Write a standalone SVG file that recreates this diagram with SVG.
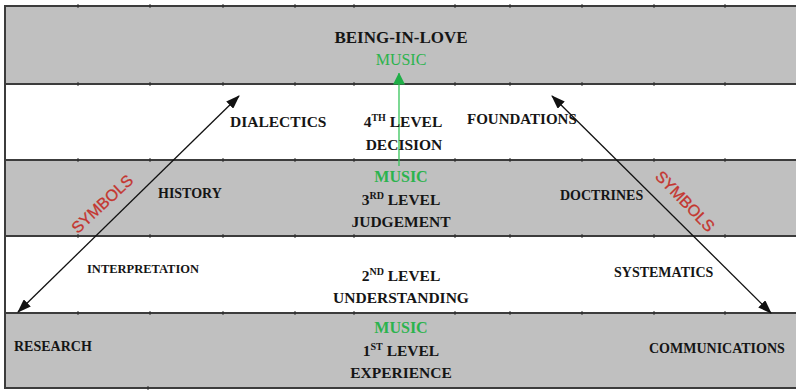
<svg xmlns="http://www.w3.org/2000/svg" width="796" height="390" viewBox="0 0 796 390">
  <style>
    .band-grey { fill: #c0c0c0; }
    .band-white { fill: #ffffff; }
    .rule { stroke: #3c3c3c; stroke-width: 2; fill: none; }
    .tick { fill: #333333; }
    .lbl { font-family: "Liberation Serif", "Times New Roman", serif; font-weight: bold; fill: #151515; }
    .c { text-anchor: middle; font-size: 15.5px; }
    .side { font-size: 14px; }
    .music { font-family: "Liberation Serif", "Times New Roman", serif; fill: #2cb34d; text-anchor: middle; }
    .sup { font-size: 10px; }
    .sym { font-family: "Liberation Sans", Arial, sans-serif; font-size: 16px; fill: #c4352f; text-anchor: middle; stroke: #c4352f; stroke-width: 0.3; }
    .arrow { stroke: #111111; stroke-width: 1.3; fill: none; }
    .rise { stroke: #36c45a; stroke-width: 1.3; fill: none; }
  </style>
  <defs>
    <marker id="head" viewBox="0 0 14 10" refX="13" refY="5" markerWidth="14" markerHeight="10" markerUnits="userSpaceOnUse" orient="auto-start-reverse">
      <path d="M0,0 L14,5 L0,10 Z" fill="#111111"/>
    </marker>
    <marker id="head-green" viewBox="0 0 12 12" refX="11.5" refY="6" markerWidth="12" markerHeight="12" markerUnits="userSpaceOnUse" orient="auto">
      <path d="M0,0 L12,6 L0,12 Z" fill="#1fae47"/>
    </marker>
  </defs>

  <!-- level bands -->
  <g id="bands">
    <rect class="band-grey" x="5" y="6" width="791" height="78"/>
    <rect class="band-white" x="5" y="84" width="791" height="76"/>
    <rect class="band-grey" x="5" y="160" width="791" height="76"/>
    <rect class="band-white" x="5" y="236" width="791" height="77"/>
    <rect class="band-grey" x="5" y="313" width="791" height="75"/>
    <path class="rule" d="M5,6 H796 M5,84 H796 M5,160 H796 M5,236 H796 M5,313 H796 M5,388 H796 M5,5 V389"/>
    <g class="tick">
      <rect x="77" y="4.5" width="2" height="3"/><rect x="149" y="4.5" width="2" height="3"/><rect x="222" y="4.5" width="2" height="3"/><rect x="294" y="4.5" width="2" height="3"/><rect x="353" y="4.5" width="2" height="3"/><rect x="454" y="4.5" width="2" height="3"/><rect x="509" y="4.5" width="2" height="3"/><rect x="581" y="4.5" width="2" height="3"/><rect x="653" y="4.5" width="2" height="3"/><rect x="724" y="4.5" width="2" height="3"/>
      <rect x="77" y="82.5" width="2" height="3"/><rect x="149" y="82.5" width="2" height="3"/><rect x="222" y="82.5" width="2" height="3"/><rect x="294" y="82.5" width="2" height="3"/><rect x="353" y="82.5" width="2" height="3"/><rect x="454" y="82.5" width="2" height="3"/><rect x="509" y="82.5" width="2" height="3"/><rect x="581" y="82.5" width="2" height="3"/><rect x="653" y="82.5" width="2" height="3"/><rect x="724" y="82.5" width="2" height="3"/>
      <rect x="77" y="158.5" width="2" height="3"/><rect x="149" y="158.5" width="2" height="3"/><rect x="222" y="158.5" width="2" height="3"/><rect x="294" y="158.5" width="2" height="3"/><rect x="353" y="158.5" width="2" height="3"/><rect x="454" y="158.5" width="2" height="3"/><rect x="509" y="158.5" width="2" height="3"/><rect x="581" y="158.5" width="2" height="3"/><rect x="653" y="158.5" width="2" height="3"/><rect x="724" y="158.5" width="2" height="3"/>
      <rect x="77" y="234.5" width="2" height="3"/><rect x="149" y="234.5" width="2" height="3"/><rect x="222" y="234.5" width="2" height="3"/><rect x="294" y="234.5" width="2" height="3"/><rect x="353" y="234.5" width="2" height="3"/><rect x="454" y="234.5" width="2" height="3"/><rect x="509" y="234.5" width="2" height="3"/><rect x="581" y="234.5" width="2" height="3"/><rect x="653" y="234.5" width="2" height="3"/><rect x="724" y="234.5" width="2" height="3"/>
      <rect x="77" y="311.5" width="2" height="3"/><rect x="149" y="311.5" width="2" height="3"/><rect x="222" y="311.5" width="2" height="3"/><rect x="294" y="311.5" width="2" height="3"/><rect x="353" y="311.5" width="2" height="3"/><rect x="454" y="311.5" width="2" height="3"/><rect x="509" y="311.5" width="2" height="3"/><rect x="581" y="311.5" width="2" height="3"/><rect x="653" y="311.5" width="2" height="3"/><rect x="724" y="311.5" width="2" height="3"/>
      <rect x="147" y="386.5" width="2" height="3"/>
    </g>
  </g>

  <!-- arrows -->
  <g id="connectors">
    <line class="arrow" x1="18" y1="312" x2="239" y2="96" marker-start="url(#head)" marker-end="url(#head)"/>
    <line class="arrow" x1="552" y1="96" x2="771" y2="313" marker-start="url(#head)" marker-end="url(#head)"/>
    <line class="rise" x1="399" y1="166" x2="399" y2="73" marker-end="url(#head-green)"/>
  </g>

  <g id="being-in-love">
    <text class="lbl c" x="401" y="43" style="font-size:17px">BEING-IN-LOVE</text>
    <text class="music" x="401" y="65" font-size="16px">MUSIC</text>
  </g>

  <g id="level-4">
    <text class="lbl c" x="403" y="127">4<tspan class="sup" dy="-6">TH</tspan><tspan dy="6"> LEVEL</tspan></text>
    <text class="lbl c" x="404" y="150">DECISION</text>
  </g>

  <g id="dialectics">
    <text class="lbl" x="230" y="127" font-size="15.5px">DIALECTICS</text>
  </g>

  <g id="foundations">
    <text class="lbl" x="467" y="124" font-size="15px">FOUNDATIONS</text>
  </g>

  <g id="level-3">
    <text class="music" x="401" y="182" font-weight="bold" font-size="16px">MUSIC</text>
    <text class="lbl c" x="401" y="205">3<tspan class="sup" dy="-6">RD</tspan><tspan dy="6"> LEVEL</tspan></text>
    <text class="lbl c" x="401" y="227">JUDGEMENT</text>
  </g>

  <g id="history">
    <text class="lbl side" x="158" y="198">HISTORY</text>
  </g>

  <g id="doctrines">
    <text class="lbl side" x="560" y="200">DOCTRINES</text>
  </g>

  <g id="level-2">
    <text class="lbl c" x="401" y="281">2<tspan class="sup" dy="-6">ND</tspan><tspan dy="6"> LEVEL</tspan></text>
    <text class="lbl c" x="401" y="303">UNDERSTANDING</text>
  </g>

  <g id="interpretation">
    <text class="lbl" x="87" y="273" font-size="12.5px">INTERPRETATION</text>
  </g>

  <g id="systematics">
    <text class="lbl side" x="614" y="277">SYSTEMATICS</text>
  </g>

  <g id="level-1">
    <text class="music" x="401" y="333" font-weight="bold" font-size="16px">MUSIC</text>
    <text class="lbl c" x="401" y="356">1<tspan class="sup" dy="-6">ST</tspan><tspan dy="6"> LEVEL</tspan></text>
    <text class="lbl c" x="401" y="378">EXPERIENCE</text>
  </g>

  <g id="research">
    <text class="lbl side" x="14" y="351">RESEARCH</text>
  </g>

  <g id="communications">
    <text class="lbl side" x="649" y="353">COMMUNICATIONS</text>
  </g>

  <g id="symbols-left">
    <text class="sym" transform="translate(106,208) rotate(-43)">SYMBOLS</text>
  </g>

  <g id="symbols-right">
    <text class="sym" transform="translate(681,205) rotate(46)">SYMBOLS</text>
  </g>
</svg>
